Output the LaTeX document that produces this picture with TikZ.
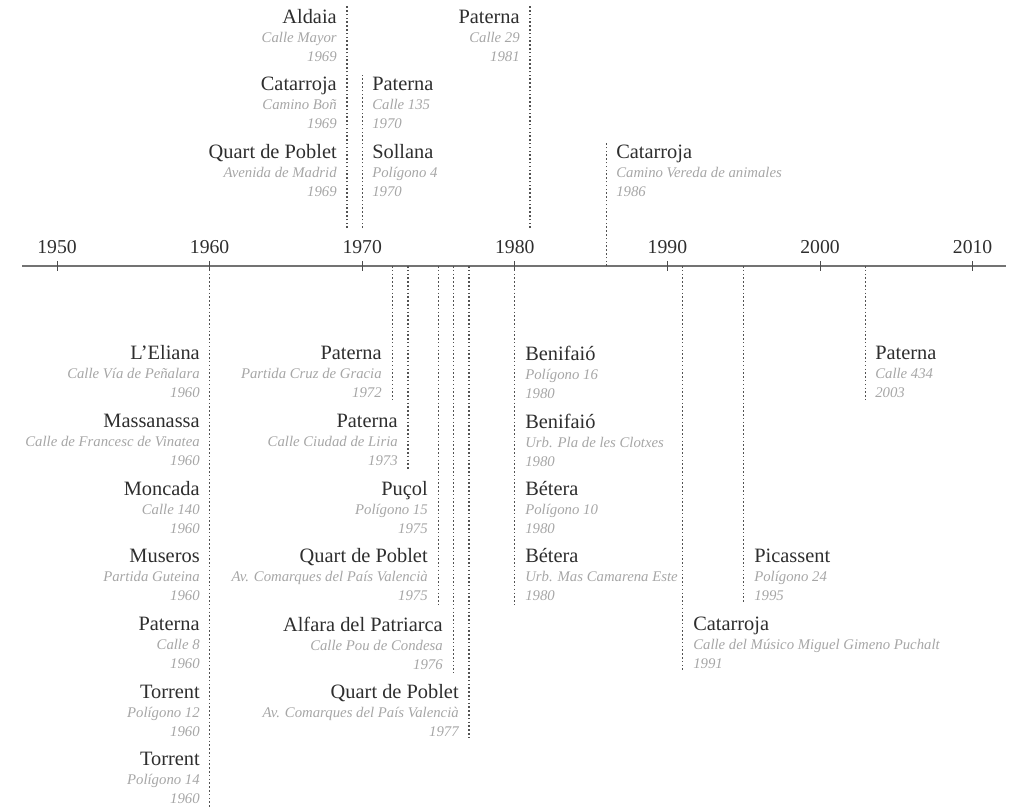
\documentclass[tikz,border=0pt]{standalone}
\usepackage{fontspec}
\setmainfont{Liberation Serif}
\usepackage{tikz}
\usetikzlibrary{positioning, calc}
\colorlet{townc}{black!82}
\colorlet{streetc}{black!35}
\colorlet{guidec}{black!68}
\tikzstyle{axis}=[color=black!55, line width=1pt]
\tikzstyle{tick}=[color=black!70, line width=0.7pt]
\tikzstyle{guide}=[color=guidec, line width=0.85pt, dash pattern=on 1.1pt off 1.6pt]
\tikzstyle{yearLbl}=[font=\fontsize{14}{16}\selectfont, text=townc, anchor=base, inner sep=0pt]
\tikzstyle{entry}=[inner sep=0pt, font=\fontsize{10.5}{13.5}\selectfont\itshape, text=streetc]
\tikzstyle{entryL}=[entry, anchor=north east, align=right]
\tikzstyle{entryR}=[entry, anchor=north west, align=left]
\newcommand{\town}[1]{{\upshape\fontsize{14.5}{13.5}\selectfont\color{townc}#1}}
\begin{document}
\begin{tikzpicture}[x=0.025cm, y=-0.025cm]
      \useasboundingbox (0,0) rectangle (1010,809);
      \foreach \yr in {1950,...,2010}
      \coordinate (t\yr) at ({57+(\yr-1950)*15.26},266);
      \coordinate (axisL) at (22,266);
      \coordinate (axisR) at (1006,266);
      \draw[axis] (axisL) -- (axisR);
      \foreach \yr in {1950,1960,...,2010} {
        \draw[tick] (t\yr) ++(0,-5) -- ++(0,10);
        \node[yearLbl] (lbl\yr) at ($(t\yr)+(0,-13)$) {\yr};
      }
      \foreach \yr in {1969,1970,1981}
      \coordinate (c\yr) at ($(t\yr)+(0,-38)$);

      % above the axis
      \node[entryL] (ald69) at (337,9.5) {\town{Aldaia}\\Calle Mayor\\1969};
      \node[entryL] (cat69) at (337,76.5) {\town{Catarroja}\\Camino Boñ\\1969};
      \node[entryL] (qdp69) at (337,144.5) {\town{Quart de Poblet}\\Avenida de Madrid\\1969};
      \node[entryR] (pat70) at (372,76.5) {\town{Paterna}\\Calle 135\\1970};
      \node[entryR] (sol70) at (372,144.5) {\town{Sollana}\\Polígono 4\\1970};
      \node[entryL] (pat81) at (520,9.5) {\town{Paterna}\\Calle 29\\1981};
      \node[entryR] (cat86) at (616,144.5) {\town{Catarroja}\\Camino Vereda de animales\\1986};
      \draw[guide] (c1969) -- ($(c1969 |- ald69.north)+(0,-4)$);
      \draw[guide] (c1970) -- ($(c1970 |- pat70.north)+(0,-2)$);
      \draw[guide] (c1981) -- ($(c1981 |- pat81.north)+(0,-4)$);
      \draw[guide] (t1986) -- ($(t1986 |- cat86.north)+(0,-2)$);

      % below the axis
      \node[entryL] (eli60) at (200,345.5) {\town{L’Eliana}\\Calle Vía de Peñalara\\1960};
      \node[entryL] (mas60) at (200,413.5) {\town{Massanassa}\\Calle de Francesc de Vinatea\\1960};
      \node[entryL] (mon60) at (200,481.5) {\town{Moncada}\\Calle 140\\1960};
      \node[entryL] (mus60) at (200,548.5) {\town{Museros}\\Partida Guteina\\1960};
      \node[entryL] (pat60) at (200,616.5) {\town{Paterna}\\Calle 8\\1960};
      \node[entryL] (tora60) at (200,684.5) {\town{Torrent}\\Polígono 12\\1960};
      \node[entryL] (torb60) at (200,751.5) {\town{Torrent}\\Polígono 14\\1960};
      \node[entryL] (pat72) at (382,345.5) {\town{Paterna}\\Partida Cruz de Gracia\\1972};
      \node[entryL] (pat73) at (398,413.5) {\town{Paterna}\\Calle Ciudad de Liria\\1973};
      \node[entryL] (puc75) at (428,481.5) {\town{Puçol}\\Polígono 15\\1975};
      \node[entryL] (qdp75) at (428,548.5) {\town{Quart de Poblet}\\Av. Comarques del País Valencià\\1975};
      \node[entryL] (alf76) at (443,616.5) {\town{Alfara del Patriarca}\\Calle Pou de Condesa\\1976};
      \node[entryL] (qdp77) at (459,684.5) {\town{Quart de Poblet}\\Av. Comarques del País Valencià\\1977};
      \node[entryR] (bena80) at (525,345.5) {\town{Benifaió}\\Polígono 16\\1980};
      \node[entryR] (benb80) at (525,413.5) {\town{Benifaió}\\Urb. Pla de les Clotxes\\1980};
      \node[entryR] (beta80) at (525,481.5) {\town{Bétera}\\Polígono 10\\1980};
      \node[entryR] (betb80) at (525,548.5) {\town{Bétera}\\Urb. Mas Camarena Este\\1980};
      \node[entryR] (cat91) at (693,616.5) {\town{Catarroja}\\Calle del Músico Miguel Gimeno Puchalt\\1991};
      \node[entryR] (pic95) at (754,548.5) {\town{Picassent}\\Polígono 24\\1995};
      \node[entryR] (pat03) at (875,345.5) {\town{Paterna}\\Calle 434\\2003};
      \draw[guide] (t1960) -- ($(t1960 |- torb60.south)+(0,3)$);
      \draw[guide] (t1972) -- ($(t1972 |- pat72.south)+(0,3)$);
      \draw[guide] (t1973) -- ($(t1973 |- pat73.south)+(0,3)$);
      \draw[guide] (t1975) -- ($(t1975 |- qdp75.south)+(0,3)$);
      \draw[guide] (t1976) -- ($(t1976 |- alf76.south)+(0,3)$);
      \draw[guide] (t1977) -- ($(t1977 |- qdp77.south)+(0,3)$);
      \draw[guide] (t1980) -- ($(t1980 |- betb80.south)+(0,3)$);
      \draw[guide] (t1991) -- ($(t1991 |- cat91.south)+(0,3)$);
      \draw[guide] (t1995) -- ($(t1995 |- pic95.south)+(0,3)$);
      \draw[guide] (t2003) -- ($(t2003 |- pat03.south)+(0,3)$);
    \end{tikzpicture}
\end{document}
